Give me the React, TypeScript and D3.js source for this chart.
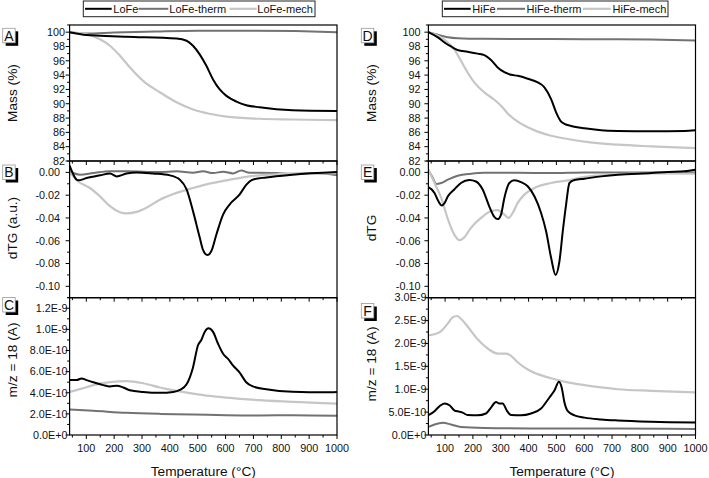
import React from "react";
import * as d3 from "d3";

// ---------- DATA ----------
const xMajorTicks = [100, 200, 300, 400, 500, 600, 700, 800, 900, 1000];
const xMinorTicks = [50, 150, 250, 350, 450, 550, 650, 750, 850, 950];
const xTickLabels = ["100", "200", "300", "400", "500", "600", "700", "800", "900", "1000"];

const massTicks = [82, 84, 86, 88, 90, 92, 94, 96, 98, 100];
const massTickLabels = ["82", "84", "86", "88", "90", "92", "94", "96", "98", "100"];
const dtgTicks = [0, -0.02, -0.04, -0.06, -0.08, -0.1];
const dtgTickLabels = ["0.00", "-0.02", "-0.04", "-0.06", "-0.08", "-0.10"];
const msLoTicks = [0, 2e-10, 4e-10, 6e-10, 8e-10, 1e-9, 1.2e-9];
const msLoTickLabels = ["0.0E+0", "2.0E-10", "4.0E-10", "6.0E-10", "8.0E-10", "1.0E-9", "1.2E-9"];
const msHiTicks = [0, 5e-10, 1e-9, 1.5e-9, 2e-9, 2.5e-9, 3e-9];
const msHiTickLabels = ["0.0E+0", "5.0E-10", "1.0E-9", "1.5E-9", "2.0E-9", "2.5E-9", "3.0E-9"];

const loSeriesNames = ["LoFe", "LoFe-therm", "LoFe-mech"];
const hiSeriesNames = ["HiFe", "HiFe-therm", "HiFe-mech"];

// Panel A (LoFe mass %)
const loFeMass: [number, number][] = [[40,100],[101,99.6],[150,99.5],[244,99.35],[424,99.1],[460,98.8],[483,98.1],[507,96.9],[531,95.3],[555,93.4],[579,92.0],[603,91.1],[639,90.3],[674,89.8],[722,89.5],[840,89.1],[1000,89.0]];
const loFeThermMass: [number, number][] = [[40,100],[75,99.85],[101,99.8],[200,99.95],[350,100.1],[500,100.2],[700,100.2],[850,100.15],[1000,100.0]];
const loFeMechMass: [number, number][] = [[40,100],[101,99.7],[149,99.0],[185,98.1],[221,96.7],[256,95.1],[304,93.2],[364,91.6],[424,90.2],[483,89.2],[542,88.6],[603,88.2],[722,87.9],[840,87.8],[1000,87.7]];

// Panel B (LoFe dTG)
const loFeDtg: [number, number][] = [[40,0.006],[71,-0.007],[101,-0.005],[149,-0.0026],[185,-0.001],[209,-0.0035],[244,-0.001],[280,0],[340,-0.001],[400,-0.0026],[436,-0.0064],[460,-0.015],[483,-0.034],[507,-0.057],[519,-0.068],[535,-0.0726],[549,-0.069],[567,-0.0545],[591,-0.037],[615,-0.028],[650,-0.0195],[674,-0.011],[697,-0.0064],[746,-0.0044],[840,-0.002],[1000,0.0003]];
const loFeThermDtg: [number, number][] = [[40,0.001],[77,-0.002],[125,-0.0006],[185,0.001],[244,0.001],[364,0.0003],[424,0.001],[483,-0.0003],[519,0.001],[555,-0.0006],[591,0.0006],[627,-0.0009],[656,0.0017],[686,-0.0003],[722,-0.0003],[782,-0.0006],[840,-0.0012],[900,-0.0006],[961,-0.0012],[1000,-0.0026]];
const loFeMechDtg: [number, number][] = [[40,0.0003],[71,-0.008],[113,-0.0137],[149,-0.021],[185,-0.0297],[221,-0.035],[244,-0.036],[280,-0.0347],[316,-0.031],[364,-0.024],[424,-0.018],[483,-0.0137],[542,-0.0099],[603,-0.007],[662,-0.0044],[722,-0.0026],[840,-0.0012],[1000,-0.0006]];

// Panel C (LoFe m/z = 18)
const loFeMs: [number, number][] = [[40,5.2e-10],[65,5.2e-10],[83,5.36e-10],[101,5.2e-10],[125,5.0e-10],[161,4.72e-10],[185,4.6e-10],[209,4.66e-10],[233,4.5e-10],[256,4.24e-10],[304,4.08e-10],[364,4.0e-10],[412,4.08e-10],[436,4.27e-10],[460,4.8e-10],[483,6.4e-10],[501,8.5e-10],[513,9.0e-10],[525,9.76e-10],[539,1.01e-9],[555,9.76e-10],[573,8.64e-10],[591,7.7e-10],[609,7.2e-10],[627,6.57e-10],[650,5.93e-10],[674,5.0e-10],[698,4.6e-10],[746,4.34e-10],[840,4.1e-10],[961,4.05e-10],[1000,4.08e-10]];
const loFeThermMs: [number, number][] = [[40,2.42e-10],[125,2.3e-10],[244,2.1e-10],[364,2.0e-10],[483,1.95e-10],[603,1.88e-10],[722,1.85e-10],[840,1.87e-10],[1000,1.82e-10]];
const loFeMechMs: [number, number][] = [[40,4.08e-10],[77,4.34e-10],[125,4.72e-10],[185,5.0e-10],[244,5.1e-10],[304,4.9e-10],[364,4.5e-10],[424,4.18e-10],[483,3.92e-10],[542,3.7e-10],[603,3.54e-10],[722,3.3e-10],[840,3.13e-10],[1000,2.97e-10]];

// Panel D (HiFe mass %)
const hiFeMass: [number, number][] = [[40,100],[74,99.26],[98,98.56],[121,98.0],[145,97.5],[181,97.26],[217,97.0],[241,96.8],[265,96.1],[289,95.07],[313,94.4],[337,94.05],[361,93.9],[397,93.5],[433,92.98],[457,92.3],[481,90.65],[499,88.8],[517,87.5],[529,87.2],[553,86.9],[601,86.56],[661,86.3],[721,86.2],[841,86.14],[960,86.2],[1000,86.28]];
const hiFeThermMass: [number, number][] = [[40,100],[74,99.63],[110,99.3],[145,99.16],[241,99.07],[481,99.03],[721,99.02],[841,98.98],[1000,98.84]];
const hiFeMechMass: [number, number][] = [[40,100],[74,99.5],[110,98.56],[133,97.6],[157,96.0],[181,94.37],[205,92.98],[241,91.58],[277,90.56],[301,89.72],[325,88.65],[361,87.49],[397,86.7],[433,86.1],[481,85.53],[541,85.07],[601,84.7],[721,84.28],[841,84.05],[1000,83.81]];

// Panel E (HiFe dTG)
const hiFeDtg: [number, number][] = [[40,-0.013],[62,-0.018],[76,-0.0254],[88,-0.029],[98,-0.027],[110,-0.021],[133,-0.015],[157,-0.0093],[187,-0.0067],[211,-0.008],[235,-0.015],[259,-0.03],[277,-0.039],[289,-0.041],[301,-0.037],[313,-0.0224],[331,-0.0093],[349,-0.007],[373,-0.0085],[397,-0.0122],[421,-0.021],[445,-0.0356],[463,-0.0516],[481,-0.075],[497,-0.09],[511,-0.078],[523,-0.0516],[535,-0.028],[547,-0.0093],[565,-0.0067],[601,-0.0055],[661,-0.0035],[721,-0.002],[841,-0.0006],[900,0.0003],[960,0.0009],[1000,0.0023]];
const hiFeThermDtg: [number, number][] = [[40,0.0023],[56,-0.005],[68,-0.0102],[86,-0.0093],[110,-0.0064],[145,-0.003],[193,-0.0012],[241,-0.0003],[361,-0.0003],[481,-0.0006],[601,0],[721,0],[841,0],[1000,0]];
const hiFeMechDtg: [number, number][] = [[40,0.0023],[62,-0.0093],[86,-0.0224],[110,-0.041],[133,-0.0545],[151,-0.0595],[169,-0.057],[193,-0.0487],[229,-0.04],[265,-0.034],[289,-0.0332],[313,-0.037],[328,-0.04],[343,-0.0356],[361,-0.0268],[385,-0.0195],[421,-0.0137],[481,-0.0093],[541,-0.007],[601,-0.004],[661,-0.0026],[721,-0.0015],[841,-0.0009],[1000,-0.0012]];

// Panel F (HiFe m/z = 18)
const hiFeMs: [number, number][] = [[40,4.35e-10],[62,5.2e-10],[80,6.3e-10],[98,6.9e-10],[116,6.5e-10],[133,5.4e-10],[151,5.1e-10],[163,4.9e-10],[181,4.35e-10],[217,4.3e-10],[247,4.7e-10],[265,6.0e-10],[283,7.2e-10],[295,6.9e-10],[307,6.9e-10],[323,5.2e-10],[337,4.35e-10],[373,4.3e-10],[409,4.7e-10],[445,5.8e-10],[475,8.2e-10],[493,9.7e-10],[509,1.165e-9],[519,1.04e-9],[529,7.1e-10],[541,5.2e-10],[565,4.3e-10],[601,3.8e-10],[661,3.4e-10],[721,3.17e-10],[841,2.9e-10],[1000,2.73e-10]];
const hiFeThermMs: [number, number][] = [[40,1.77e-10],[62,2.3e-10],[92,2.65e-10],[121,2.3e-10],[157,1.77e-10],[241,1.55e-10],[481,1.4e-10],[721,1.4e-10],[1000,1.33e-10]];
const hiFeMechMs: [number, number][] = [[40,2.18e-9],[62,2.2e-9],[86,2.27e-9],[110,2.44e-9],[127,2.57e-9],[143,2.6e-9],[157,2.54e-9],[181,2.37e-9],[217,2.09e-9],[253,1.89e-9],[289,1.78e-9],[319,1.78e-9],[337,1.73e-9],[361,1.59e-9],[397,1.43e-9],[433,1.33e-9],[481,1.24e-9],[541,1.15e-9],[601,1.09e-9],[661,1.04e-9],[721,1.0e-9],[841,9.66e-10],[1000,9.3e-10]];

// ---------- STYLE / LAYOUT ----------
const FONT = "'Liberation Sans', Arial, Helvetica, sans-serif";
const COLORS = ["#000000", "#727272", "#c6c6c6"];
const WIDTHS = [2, 2, 2.2];
const X_DOMAIN: [number, number] = [40, 1000];

const COLS = [
  { x0: 69.6, x1: 337, titleX: 16.5, boxX: 2.7, legend: { x: 83.3, w: 231.7, items: [[85, 111.7, 113.3], [138.5, 168.3, 169.3], [229.5, 256.7, 257.3]] } },
  { x0: 428.4, x1: 695.5, titleX: 375.5, boxX: 361.3, legend: { x: 442.3, w: 225.7, items: [[444, 470.7, 472.3], [497, 525, 526.5], [583, 610.7, 612.5]] } },
];
const ROWS = [
  { y0: 25, y1: 161 },
  { y0: 161, y1: 297.7 },
  { y0: 297.7, y1: 435 },
];

type Series = [number, number][];
interface PanelSpec {
  col: number;
  row: number;
  letter: string;
  boxY: number;
  domain: [number, number];
  ticks: number[];
  tickLabels: string[];
  minorStep: number;
  labelGap: number;
  title: string;
  titleY: number;
  series: Series[];
  xLabels: boolean;
}

const panels: PanelSpec[] = [
  { col: 0, row: 0, letter: "A", boxY: 28.3, domain: [82, 101], ticks: massTicks, tickLabels: massTickLabels, minorStep: 1, labelGap: 4.5, title: "Mass (%)", titleY: 93, series: [loFeMass, loFeThermMass, loFeMechMass], xLabels: false },
  { col: 0, row: 1, letter: "B", boxY: 165, domain: [-0.11, 0.01], ticks: dtgTicks, tickLabels: dtgTickLabels, minorStep: 0.01, labelGap: 9.5, title: "dTG (a.u.)", titleY: 228, series: [loFeDtg, loFeThermDtg, loFeMechDtg], xLabels: false },
  { col: 0, row: 2, letter: "C", boxY: 297.5, domain: [0, 1.3e-9], ticks: msLoTicks, tickLabels: msLoTickLabels, minorStep: 1e-10, labelGap: 2, title: "m/z = 18 (A)", titleY: 360, series: [loFeMs, loFeThermMs, loFeMechMs], xLabels: true },
  { col: 1, row: 0, letter: "D", boxY: 28.3, domain: [82, 101], ticks: massTicks, tickLabels: massTickLabels, minorStep: 1, labelGap: 8, title: "Mass (%)", titleY: 93, series: [hiFeMass, hiFeThermMass, hiFeMechMass], xLabels: false },
  { col: 1, row: 1, letter: "E", boxY: 165, domain: [-0.11, 0.01], ticks: dtgTicks, tickLabels: dtgTickLabels, minorStep: 0.01, labelGap: 8, title: "dTG", titleY: 228, series: [hiFeDtg, hiFeThermDtg, hiFeMechDtg], xLabels: false },
  { col: 1, row: 2, letter: "F", boxY: 303.5, domain: [0, 3e-9], ticks: msHiTicks, tickLabels: msHiTickLabels, minorStep: 2.5e-10, labelGap: 2, title: "m/z = 18 (A)", titleY: 364, series: [hiFeMs, hiFeThermMs, hiFeMechMs], xLabels: true },
];

function Panel({ p }: { p: PanelSpec }) {
  const c = COLS[p.col];
  const r = ROWS[p.row];
  const x = d3.scaleLinear().domain(X_DOMAIN).range([c.x0, c.x1]);
  const y = d3.scaleLinear().domain(p.domain).range([r.y1, r.y0]);
  const line = d3
    .line<[number, number]>()
    .x((d) => x(d[0]))
    .y((d) => y(d[1]))
    .curve(d3.curveMonotoneX);
  const clipId = `clip-${p.letter}`;
  const minor: number[] = [];
  const lo = Math.min(p.domain[0], p.domain[1]);
  const hi = Math.max(p.domain[0], p.domain[1]);
  const n = Math.round((hi - lo) / p.minorStep);
  for (let i = 0; i <= n; i++) {
    const v = lo + i * p.minorStep;
    if (!p.ticks.some((t) => Math.abs(t - v) < p.minorStep / 10)) minor.push(v);
  }
  const titleCx = c.x0 + (c.x1 - c.x0) / 2 - 0;
  return (
    <g>
      <defs>
        <clipPath id={clipId}>
          <rect x={c.x0} y={r.y0} width={c.x1 - c.x0} height={r.y1 - r.y0} />
        </clipPath>
      </defs>
      <g clipPath={`url(#${clipId})`}>
        {[1, 2, 0].map((i) => (
          <path key={i} d={line(p.series[i]) || ""} fill="none" stroke={COLORS[i]} strokeWidth={WIDTHS[i]} strokeLinejoin="round" />
        ))}
      </g>
      {/* frame */}
      <rect x={c.x0} y={r.y0} width={c.x1 - c.x0} height={r.y1 - r.y0} fill="none" stroke="#000" strokeWidth={1.2} />
      {/* y ticks */}
      {p.ticks.map((t, i) => (
        <g key={`yt${i}`}>
          <line x1={c.x0 - 4} x2={c.x0} y1={y(t)} y2={y(t)} stroke="#000" strokeWidth={1} />
          <text x={c.x0 - p.labelGap} y={y(t)} dy="0.35em" textAnchor="end" fontSize={10.8} fontFamily={FONT} fill="#111">
            {p.tickLabels[i]}
          </text>
        </g>
      ))}
      {minor.map((t, i) => (
        <line key={`ym${i}`} x1={c.x0 - 2.5} x2={c.x0} y1={y(t)} y2={y(t)} stroke="#000" strokeWidth={1} />
      ))}
      {/* x ticks (bottom, outward) */}
      {xMajorTicks.map((t, i) => (
        <g key={`xt${i}`}>
          <line x1={x(t)} x2={x(t)} y1={r.y1} y2={r.y1 + 4} stroke="#000" strokeWidth={1} />
          {p.xLabels && (
            <text x={x(t)} y={r.y1 + 16.5} textAnchor="middle" fontSize={10.8} fontFamily={FONT} fill="#111">
              {xTickLabels[i]}
            </text>
          )}
        </g>
      ))}
      {xMinorTicks.map((t, i) => (
        <line key={`xm${i}`} x1={x(t)} x2={x(t)} y1={r.y1} y2={r.y1 + 2.5} stroke="#000" strokeWidth={1} />
      ))}
      {p.xLabels && (
        <text x={titleCx} y={475.5} textAnchor="middle" fontSize={13.7} fontFamily={FONT} fill="#111">
          Temperature (°C)
        </text>
      )}
      {/* y title */}
      <text
        transform={`translate(${c.titleX},${p.titleY}) rotate(-90)`}
        textAnchor="middle"
        fontSize={13.7}
        fontFamily={FONT}
        fill="#111"
      >
        {p.title}
      </text>
      {/* panel letter box */}
      <rect x={c.boxX + 3} y={p.boxY + 3} width={12.5} height={14.5} fill="#000" />
      <rect x={c.boxX} y={p.boxY} width={12.5} height={14.5} fill="#fff" stroke="#9a9a9a" strokeWidth={0.8} />
      <text x={c.boxX + 6.25} y={p.boxY + 12.3} textAnchor="middle" fontSize={14} fontFamily={FONT} fill="#111">
        {p.letter}
      </text>
    </g>
  );
}

function Legend({ col, names }: { col: number; names: string[] }) {
  const L = COLS[col].legend;
  return (
    <g>
      <rect x={L.x} y={1} width={L.w} height={15.7} fill="#fff" stroke="#222" strokeWidth={1} />
      {names.map((nm, i) => (
        <g key={nm}>
          <line x1={L.items[i][0]} x2={L.items[i][1]} y1={8.8} y2={8.8} stroke={COLORS[i]} strokeWidth={WIDTHS[i]} />
          <text x={L.items[i][2]} y={12.8} fontSize={11} fontFamily={FONT} fill="#111">
            {nm}
          </text>
        </g>
      ))}
    </g>
  );
}

export default function App() {
  return (
    <svg
      width={709}
      height={478}
      viewBox="0 0 709 478"
      style={{ position: "absolute", left: 0, top: 0, background: "#fff" }}
    >
      <rect x={0} y={0} width={709} height={478} fill="#fff" />
      {panels.map((p) => (
        <Panel key={p.letter} p={p} />
      ))}
      <Legend col={0} names={loSeriesNames} />
      <Legend col={1} names={hiSeriesNames} />
    </svg>
  );
}
